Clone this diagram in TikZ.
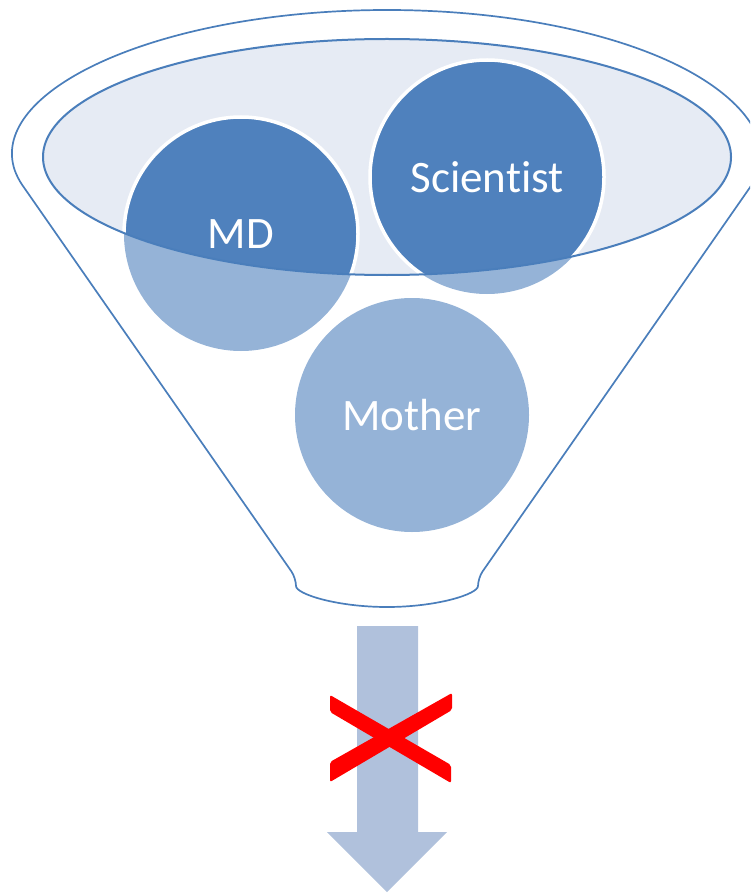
\documentclass[tikz,border=0pt]{standalone}
\usepackage{fontspec}
\setmainfont{Carlito}[Ligatures=NoCommon]
\definecolor{rimblue}{HTML}{4A7EBB}
\definecolor{topfill}{HTML}{E6EBF4}
\definecolor{darkball}{HTML}{4F81BD}
\definecolor{lightball}{HTML}{95B3D7}
\definecolor{arrowfill}{HTML}{B0C1DC}
\definecolor{crossred}{HTML}{FF0000}
\tikzset{
  funnelline/.style={draw=rimblue, line width=1.7pt},
  ballshape/.style={circle, minimum size=234pt, inner sep=0pt, fill=lightball},
  balllabel/.style={text=white, font=\fontsize{45}{54}\selectfont},
  crossbar/.style={fill=crossred, rounded corners=2pt},
}
\begin{document}
\begin{tikzpicture}[x=1pt, y=-1pt]
  \useasboundingbox (0,0) rectangle (750,893);
  \clip (0,0) rectangle (750,893);

  % funnel body: rim arc, sloping sides, rounded spout
  \draw[funnelline, rounded corners=8pt]
    (17.4,178) arc[start angle=187.77, end angle=-7.77, x radius=373pt, y radius=148pt]
    -- (478,578) arc[start angle=0, end angle=-180, x radius=91pt, y radius=29pt]
    -- cycle;

  % mouth of the funnel
  \fill[topfill] (387,157) ellipse[x radius=344pt, y radius=118pt];

  % the three balls, pale where they sit below the mouth
  \node[ballshape] (md)  at (241,234) {};
  \node[ballshape] (sci) at (487,177) {};
  \node[ballshape] (mom) at (412,415) {};

  % the parts of the balls seen inside the mouth
  \begin{scope}
    \clip (387,157) ellipse[x radius=344pt, y radius=118pt];
    \foreach \b in {md,sci}
      \filldraw[fill=darkball, draw=white, line width=3.5pt] (\b.center) circle[radius=117pt];
  \end{scope}

  % outline of the mouth
  \draw[draw=rimblue, line width=2pt] (387,157) ellipse[x radius=344pt, y radius=118pt];

  % labels
  \node[balllabel] at (md.center)  {MD};
  \node[balllabel] at (sci.center) {Scientist};
  \node[balllabel] at (mom.center) {Mother};

  % outflow arrow
  \fill[arrowfill] (357,626) -- (418,626) -- (418,832) -- (447,832)
    -- (387,892) -- (327,832) -- (357,832) -- cycle;

  % red cross over the arrow
  \fill[crossbar] (330,695) -- (330,712) -- (451,783) -- (451,765) -- cycle;
  \fill[crossbar] (330,762) -- (330,782) -- (452,710) -- (452,693) -- cycle;
\end{tikzpicture}
\end{document}
